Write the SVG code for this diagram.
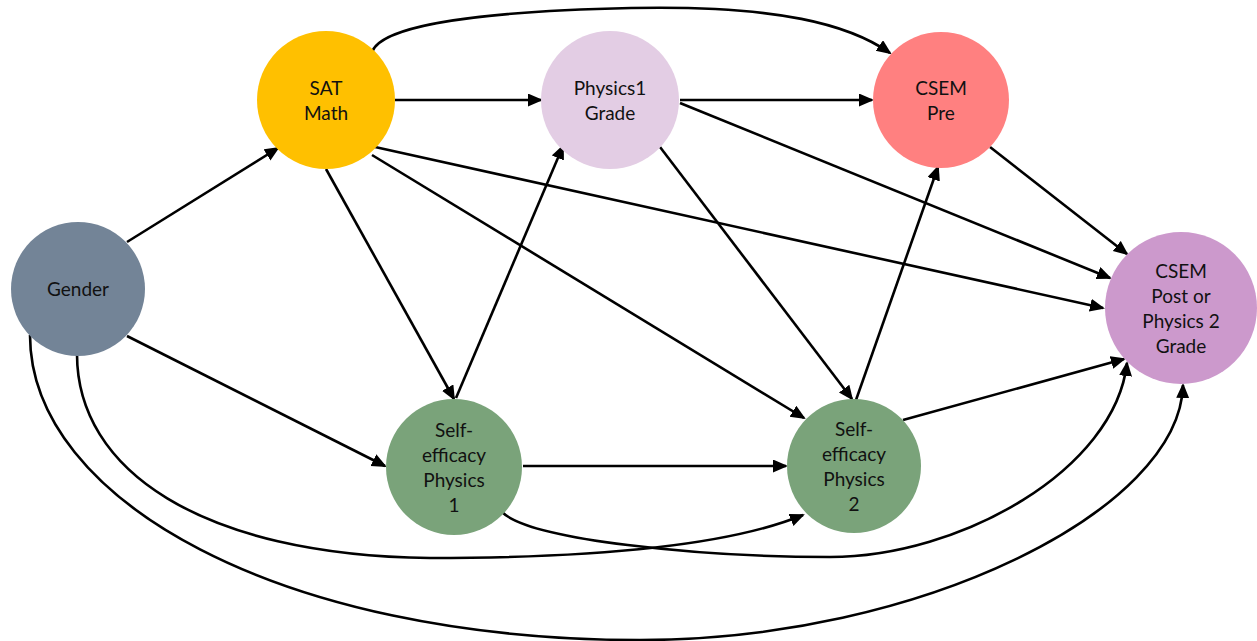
<svg xmlns="http://www.w3.org/2000/svg" width="1257" height="641" viewBox="0 0 1257 641">
<defs>
<style>
.lbl{font-family:Lato,"Liberation Sans",sans-serif;font-size:19px;fill:#111;text-anchor:middle}
.e{fill:none;stroke:#000;stroke-width:2.6;marker-end:url(#ah)}
</style>
<marker id="ah" markerUnits="userSpaceOnUse" markerWidth="16" markerHeight="14" refX="13" refY="6.5" orient="auto">
<path d="M0,0 L15,6.5 L0,13 z" fill="#000"/>
</marker>
</defs>
<rect width="1257" height="641" fill="#fff"/>
<g id="connectors">
<path class="e" d="M127,242 L278,148"/>
<path class="e" d="M127,336 L385,466"/>
<path class="e" d="M395,100 L541,100"/>
<path class="e" d="M680,100 L872,100"/>
<path class="e" d="M326,169 L454,399"/>
<path class="e" d="M456,398 L563,146"/>
<path class="e" d="M375,147 L1103,308"/>
<path class="e" d="M372,155 L804,418"/>
<path class="e" d="M680,103 L1110,278"/>
<path class="e" d="M660,147 L852,399"/>
<path class="e" d="M856,400 L938,167"/>
<path class="e" d="M990,147 L1127,254"/>
<path class="e" d="M903,420 L1124,359"/>
<path class="e" d="M523,466 L786,466"/>
<path class="e" d="M372,52 C380,30 450,12 631,8 C780,5 850,25 890,53"/>
<path class="e" d="M77,354 C77,470 200,555 430,558 C600,558 730,545 803,515"/>
<path class="e" d="M30,335 C30,500 280,640 640,640 C920,640 1180,510 1183,385"/>
<path class="e" d="M502,512 C530,540 700,557 830,557 C960,557 1115,470 1127,363"/>
</g>
<g id="gender">
<circle cx="78" cy="289" r="67" fill="#738497"/>
<text class="lbl" x="78" y="296">Gender</text>
</g>
<g id="sat-math">
<circle cx="326" cy="100" r="69" fill="#FFC000"/>
<text class="lbl" x="326" y="95">SAT</text>
<text class="lbl" x="326" y="120">Math</text>
</g>
<g id="physics1-grade">
<circle cx="610" cy="100" r="69" fill="#E3CDE4"/>
<text class="lbl" x="610" y="95">Physics1</text>
<text class="lbl" x="610" y="120">Grade</text>
</g>
<g id="csem-pre">
<circle cx="941" cy="100" r="68" fill="#FF8080"/>
<text class="lbl" x="941" y="95">CSEM</text>
<text class="lbl" x="941" y="120">Pre</text>
</g>
<g id="csem-post">
<circle cx="1181" cy="308" r="76" fill="#CC99CC"/>
<text class="lbl" x="1181" y="278">CSEM</text>
<text class="lbl" x="1181" y="303">Post or</text>
<text class="lbl" x="1181" y="328">Physics 2</text>
<text class="lbl" x="1181" y="353">Grade</text>
</g>
<g id="self-efficacy-1">
<circle cx="454" cy="467" r="68" fill="#7AA37A"/>
<text class="lbl" x="454" y="437">Self-</text>
<text class="lbl" x="454" y="462">efficacy</text>
<text class="lbl" x="454" y="487">Physics</text>
<text class="lbl" x="454" y="512">1</text>
</g>
<g id="self-efficacy-2">
<circle cx="854" cy="466" r="67" fill="#7AA37A"/>
<text class="lbl" x="854" y="436">Self-</text>
<text class="lbl" x="854" y="461">efficacy</text>
<text class="lbl" x="854" y="486">Physics</text>
<text class="lbl" x="854" y="511">2</text>
</g>
</svg>
